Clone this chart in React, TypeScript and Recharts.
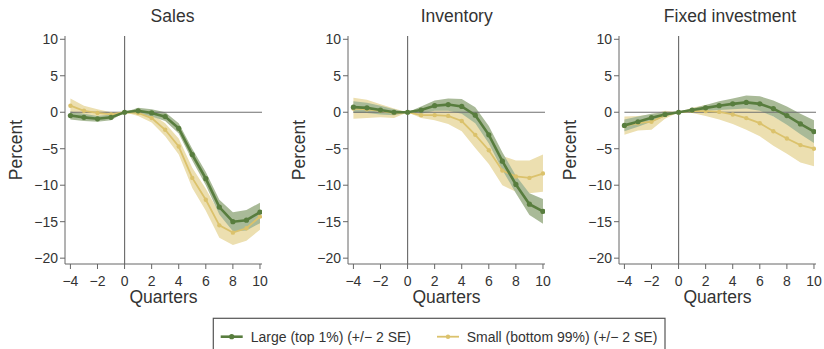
import React from 'react';
import { ComposedChart, Line, Area, XAxis, YAxis, ReferenceLine } from 'recharts';

const quarters = [-4, -3, -2, -1, 0, 1, 2, 3, 4, 5, 6, 7, 8, 9, 10];
const xTicks = [-4, -2, 0, 2, 4, 6, 8, 10];
const yTicks = [-20, -15, -10, -5, 0, 5, 10];

const salesLarge = [-0.45, -0.7, -0.9, -0.7, 0, 0.2, -0.1, -0.6, -2.2, -5.8, -9.1, -13.0, -15.0, -14.8, -13.7];
const salesLargeLo = [-1.0, -1.2, -1.3, -1.1, 0, -0.2, -0.6, -1.2, -2.9, -6.6, -10.0, -14.0, -16.3, -16.2, -15.2];
const salesLargeHi = [0.1, -0.2, -0.5, -0.3, 0, 0.6, 0.4, 0.0, -1.5, -5.0, -8.2, -12.0, -13.7, -13.4, -12.4];
const salesSmall = [0.9, 0.2, -0.1, -0.3, 0, -0.1, -0.8, -2.4, -4.7, -9.0, -12.0, -15.5, -16.5, -15.9, -14.3];
const salesSmallLo = [-0.1, -0.5, -0.6, -0.6, 0, -0.5, -1.4, -3.3, -5.8, -10.4, -13.5, -17.2, -18.2, -17.6, -16.1];
const salesSmallHi = [1.9, 0.9, 0.4, 0.0, 0, 0.3, -0.2, -1.5, -3.6, -7.6, -10.5, -13.8, -14.8, -14.2, -12.5];

const invLarge = [0.7, 0.6, 0.3, 0.0, 0, 0.3, 0.9, 1.05, 0.8, -0.4, -3.1, -6.7, -9.9, -12.6, -13.6];
const invLargeLo = [-0.1, -0.1, -0.3, -0.4, 0, -0.2, 0.2, 0.2, -0.2, -1.5, -4.3, -7.9, -11.1, -14.1, -15.3];
const invLargeHi = [1.5, 1.3, 0.9, 0.4, 0, 0.8, 1.6, 1.9, 1.8, 0.7, -1.9, -5.5, -8.7, -11.1, -11.9];
const invSmall = [0.5, 0.4, 0.2, -0.1, 0, -0.4, -0.4, -0.5, -1.2, -3.1, -5.2, -8.0, -8.8, -9.0, -8.4];
const invSmallLo = [-0.9, -0.8, -0.7, -0.8, 0, -0.8, -1.1, -1.6, -2.6, -4.9, -7.1, -10.0, -10.9, -11.1, -10.9];
const invSmallHi = [2.0, 1.7, 1.1, 0.5, 0, 0.0, 0.3, 0.6, 0.3, -1.3, -3.3, -6.0, -6.6, -6.6, -5.8];

const fixLarge = [-1.8, -1.3, -0.75, -0.3, 0, 0.3, 0.6, 0.9, 1.15, 1.35, 1.15, 0.5, -0.45, -1.6, -2.65];
const fixLargeLo = [-2.6, -2.0, -1.3, -0.6, 0, 0.1, 0.2, 0.3, 0.4, 0.5, 0.2, -0.6, -1.7, -3.0, -4.2];
const fixLargeHi = [-1.0, -0.6, -0.2, 0.0, 0, 0.5, 1.0, 1.5, 1.9, 2.3, 2.2, 1.6, 0.8, -0.2, -1.1];
const fixSmall = [-1.9, -1.5, -1.3, -0.4, 0, 0.2, 0.15, 0.05, -0.3, -0.8, -1.5, -2.6, -3.6, -4.5, -5.0];
const fixSmallLo = [-3.1, -2.5, -2.4, -0.9, 0, -0.1, -0.5, -1.0, -1.6, -2.4, -3.3, -4.6, -5.7, -6.9, -7.4];
const fixSmallHi = [-0.6, -0.5, -0.3, 0.2, 0, 0.6, 1.0, 1.2, 1.1, 0.8, 0.3, -0.6, -1.6, -2.3, -2.5];

const panelTitles = ['Sales', 'Inventory', 'Fixed investment'];
const legendLabels = ['Large (top 1%) (+/\u2212 2 SE)', 'Small (bottom 99%) (+/\u2212 2 SE)'];

const GREEN = '#587d3e';
const GREEN_BAND = '#a9ba98';
const YELLOW = '#dbc26c';
const YELLOW_BAND = '#ecdfb0';
const AXIS = '#666';
const TEXT = '#333';
const FONT = '"Liberation Sans", Arial, Helvetica, sans-serif';

function build(large: number[], largeLo: number[], largeHi: number[], small: number[], smallLo: number[], smallHi: number[]) {
  return quarters.map((q, i) => ({
    q,
    large: large[i],
    largeBand: [largeLo[i], largeHi[i]],
    small: small[i],
    smallBand: [smallLo[i], smallHi[i]],
  }));
}

const panels = [
  { title: panelTitles[0], left: 0, titleX: 172.5, data: build(salesLarge, salesLargeLo, salesLargeHi, salesSmall, salesSmallLo, salesSmallHi) },
  { title: panelTitles[1], left: 283, titleX: 456.7, data: build(invLarge, invLargeLo, invLargeHi, invSmall, invSmallLo, invSmallHi) },
  { title: panelTitles[2], left: 554, titleX: 730, data: build(fixLarge, fixLargeLo, fixLargeHi, fixSmall, fixSmallLo, fixSmallHi) },
];

function Panel({ data }: { data: any[] }) {
  return (
    <ComposedChart width={275} height={310} data={data} margin={{ top: 36, right: 13, bottom: 6, left: 0 }}>
      <XAxis
        dataKey="q"
        type="number"
        domain={[-4.4, 10.15]}
        ticks={xTicks}
        tickFormatter={(v: number) => (v < 0 ? '\u2212' + Math.abs(v) : String(v))}
        height={40}
        tickSize={5}
        tickMargin={7}
        stroke={AXIS}
        tick={{ fill: TEXT, fontSize: 14, fontFamily: FONT }}
        allowDataOverflow
        label={{ value: 'Quarters', position: 'insideBottom', offset: 1, fill: TEXT, fontSize: 17.5, fontFamily: FONT }}
      />
      <YAxis
        type="number"
        domain={[-20.8, 10.45]}
        ticks={yTicks}
        tickFormatter={(v: number) => (v < 0 ? '\u2212' + Math.abs(v) : String(v))}
        width={65}
        tickSize={5}
        tickMargin={2}
        stroke={AXIS}
        tick={{ fill: TEXT, fontSize: 14, fontFamily: FONT }}
        allowDataOverflow
        label={{ value: 'Percent', angle: -90, position: 'insideLeft', offset: 15.5, fill: TEXT, fontSize: 17.5, fontFamily: FONT, style: { textAnchor: 'middle' } }}
      />
      <Area dataKey="smallBand" type="linear" stroke="none" fill={YELLOW_BAND} fillOpacity={1} isAnimationActive={false} activeDot={false} />
      <Area dataKey="largeBand" type="linear" stroke="none" fill={GREEN_BAND} fillOpacity={1} isAnimationActive={false} activeDot={false} />
      <ReferenceLine segment={[{ x: -4, y: 0 }, { x: 10.15, y: 0 }]} stroke="#6f6f6f" strokeWidth={1.2} />
      <ReferenceLine x={0} stroke="#6f6f6f" strokeWidth={1.2} />
      <Line dataKey="small" type="linear" stroke={YELLOW} strokeWidth={1.8} dot={{ r: 2.2, fill: YELLOW, stroke: YELLOW, strokeWidth: 0 }} activeDot={false} isAnimationActive={false} />
      <Line dataKey="large" type="linear" stroke={GREEN} strokeWidth={2.6} dot={{ r: 2.6, fill: GREEN, stroke: GREEN, strokeWidth: 0 }} activeDot={false} isAnimationActive={false} />
    </ComposedChart>
  );
}

export default function App() {
  return (
    <div style={{ position: 'fixed', left: 0, top: 0, width: 824, height: 349, background: '#fff', overflow: 'hidden', fontFamily: FONT }}>
      {panels.map((p) => (
        <div key={p.title} style={{ position: 'absolute', left: p.left, top: 0 }}>
          <Panel data={p.data} />
        </div>
      ))}
      <svg width={824} height={349} style={{ position: 'absolute', left: 0, top: 0, pointerEvents: 'none' }}>
        {panels.map((p) => (
          <text key={p.title} x={p.titleX} y={21.7} textAnchor="middle" fontSize={17.5} fill={TEXT} fontFamily={FONT}>
            {p.title}
          </text>
        ))}
        <rect x={213.3} y={318.3} width={451.7} height={45} fill="none" stroke="#555" strokeWidth={1.2} />
        <line x1={220.7} x2={242.7} y1={336.7} y2={336.7} stroke={GREEN} strokeWidth={2.6} />
        <circle cx={231.7} cy={336.7} r={2.6} fill={GREEN} />
        <text x={250.7} y={341.5} fontSize={14} fill={TEXT} fontFamily={FONT}>{legendLabels[0]}</text>
        <line x1={437} x2={459} y1={336.7} y2={336.7} stroke={YELLOW} strokeWidth={1.8} />
        <circle cx={448} cy={336.7} r={2.2} fill={YELLOW} />
        <text x={466.7} y={341.5} fontSize={14} fill={TEXT} fontFamily={FONT}>{legendLabels[1]}</text>
      </svg>
    </div>
  );
}
